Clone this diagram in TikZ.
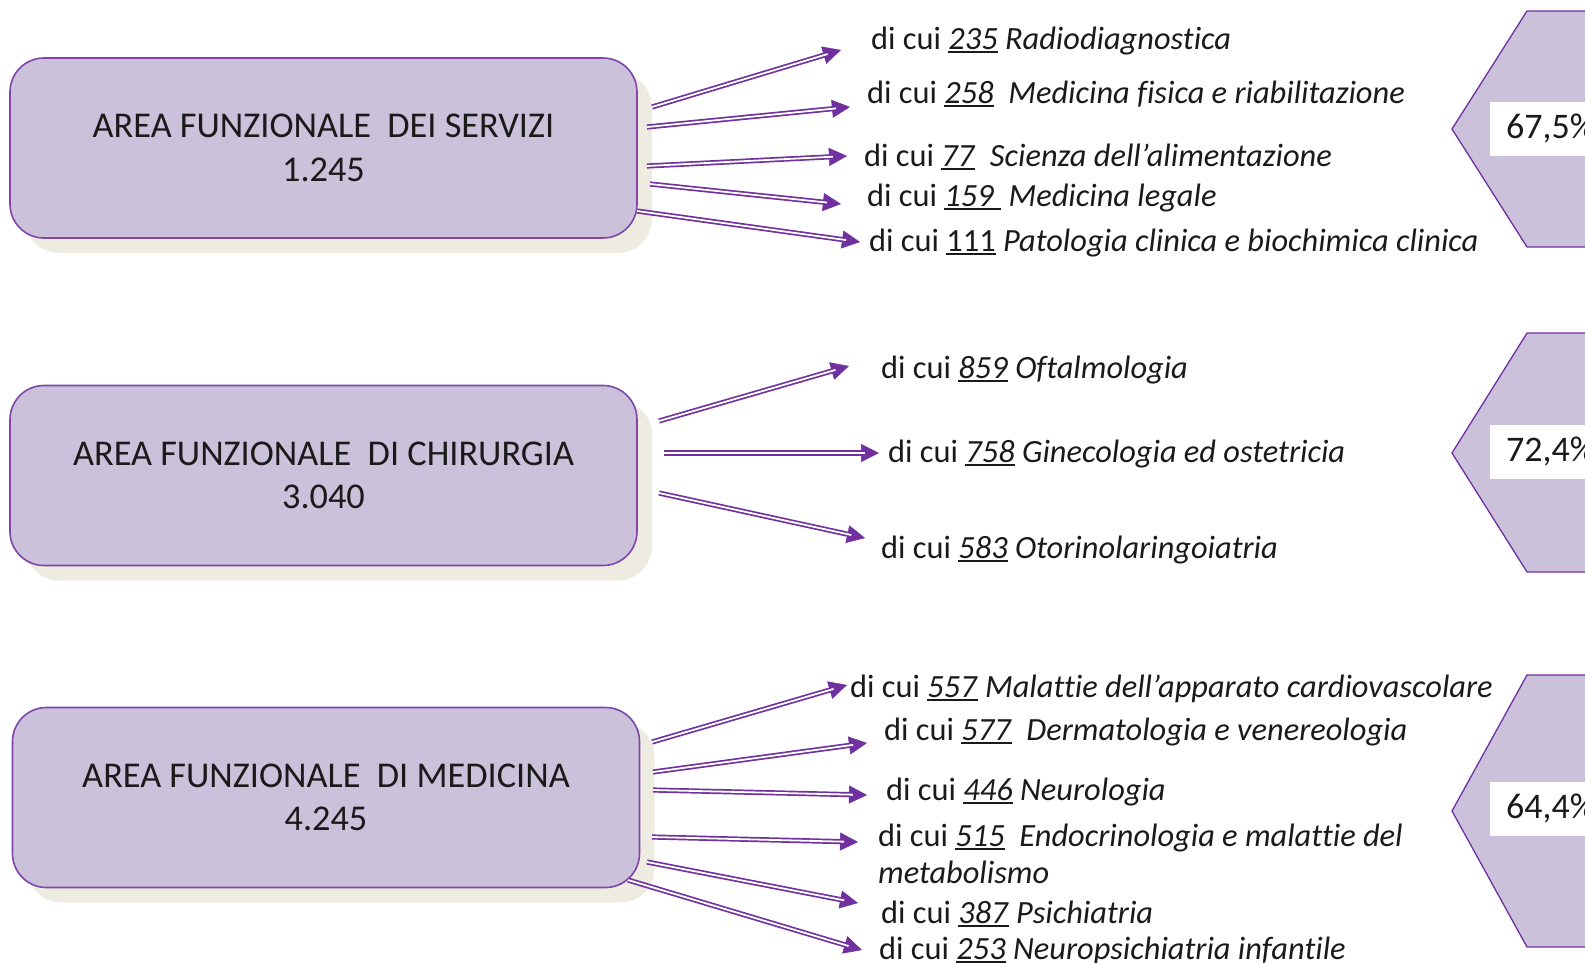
\documentclass[tikz,border=0pt]{standalone}
\usepackage{fontspec}
\setmainfont{Carlito}[Ligatures=NoCommon]
\usetikzlibrary{arrows.meta,shadows}
\definecolor{arrc}{HTML}{7030A0}
\definecolor{boxfill}{HTML}{CCC1DA}
\definecolor{shadowc}{HTML}{EEECE1}
\definecolor{txt}{HTML}{1A1A1A}
\newsavebox\unbox
\newcommand\un[1]{\sbox\unbox{#1}\mbox{\rlap{\rule[-3.6pt]{\wd\unbox}{1.4pt}}\usebox\unbox}}
\newcommand\darr[2]{\draw[tipst] (#1) -- (#2); \draw[shaftst] (#1) -- (#2);}
\begin{document}
\begin{tikzpicture}[x=1pt,y=-1pt,
 area/.style={draw=arrc!90, line width=1.6pt, fill=boxfill, rounded corners=34pt,
   minimum width=627pt, minimum height=180pt, align=center, inner sep=0pt,
   font=\fontsize{36.3}{43.4}\selectfont, text=txt,
   drop shadow={shadow xshift=15pt, shadow yshift=-15pt, fill=shadowc, draw=none, opacity=1}},
 lab/.style={anchor=base west, inner sep=0pt, font=\fontsize{32.4}{37}\selectfont, text=txt, align=left},
 pct/.style={fill=white, anchor=west, minimum height=54pt, text width=110pt, inner xsep=16pt,
   font=\fontsize{36}{40}\selectfont, text=txt},
 hexa/.style={draw=arrc, line width=1.3pt, fill=boxfill},
 tipst/.style={draw=arrc, line width=0.5pt, -{Triangle[length=18pt,width=18pt]}},
 shaftst/.style={draw=arrc, line width=1.7pt, double=white, double distance=1.8pt, shorten >=14pt},
]
\useasboundingbox (0,0) rectangle (1585,962);
\clip (0,0) rectangle (1585,962);

% area boxes
\node[area] (b1) at (323.5,148) {AREA FUNZIONALE\ \ DEI SERVIZI\\1.245};
\node[area] (b2) at (323.5,475.5) {AREA FUNZIONALE\ \ DI CHIRURGIA\\3.040};
\node[area] (b3) at (326,797.5) {AREA FUNZIONALE\ \ DI MEDICINA\\4.245};

% hexagons
\path[hexa] (1452,129) -- (1527,11) -- (1700,11) -- (1775,129) -- (1700,247) -- (1527,247) -- cycle;
\path[hexa] (1452,453) -- (1527,333) -- (1700,333) -- (1775,453) -- (1700,572) -- (1527,572) -- cycle;
\path[hexa] (1452,811) -- (1527,675) -- (1700,675) -- (1775,811) -- (1700,947) -- (1527,947) -- cycle;
\node[pct] (p1) at (1490,128.5) {67,5\%};
\node[pct] (p2) at (1490,452) {72,4\%};
\node[pct] (p3) at (1490,809) {64,4\%};

% labels
\node[lab] (l11) at (871,49) {di cui \un{\textit{235}} \textit{Radiodiagnostica}};
\node[lab] (l12) at (867,103) {di cui \un{\textit{258}}\ \ \textit{Medicina fisica e riabilitazione}};
\node[lab] (l13) at (864,166) {di cui \un{\textit{77}}\ \ \textit{Scienza dell’alimentazione}};
\node[lab] (l14) at (867,206) {di cui \un{\textit{159}\ }\ \textit{Medicina legale}};
\node[lab] (l15) at (869,251) {di cui \un{111} \textit{Patologia clinica e biochimica clinica}};

\node[lab] (l21) at (881,378) {di cui \un{\textit{859}} \textit{Oftalmologia}};
\node[lab] (l22) at (888,462) {di cui \un{\textit{758}} \textit{Ginecologia ed ostetricia}};
\node[lab] (l23) at (881,558) {di cui \un{\textit{583}} \textit{Otorinolaringoiatria}};

\node[lab] (l31) at (850,697) {di cui \un{\textit{557}} \textit{Malattie dell’apparato cardiovascolare}};
\node[lab] (l32) at (884,740) {di cui \un{\textit{577}}\ \ \textit{Dermatologia e venereologia}};
\node[lab] (l33) at (886,800) {di cui \un{\textit{446}} \textit{Neurologia}};
\node[lab] (l34) at (878,883) {di cui \un{\textit{515}}\ \ \textit{Endocrinologia e malattie del}\\\textit{metabolismo}};
\node[lab] (l35) at (881,923) {di cui \un{\textit{387}} \textit{Psichiatria}};
\node[lab] (l36) at (879,959) {di cui \un{\textit{253}} \textit{Neuropsichiatria infantile}};

% arrow coordinates
\coordinate (s11) at (652,107); \coordinate (e11) at (841,50);
\coordinate (s12) at (647,127); \coordinate (e12) at (850,107);
\coordinate (s13) at (647,166); \coordinate (e13) at (847,156);
\coordinate (s14) at (650,184); \coordinate (e14) at (841,204);
\coordinate (s15) at (637,211); \coordinate (e15) at (860,242);

\coordinate (s21) at (659,421); \coordinate (e21) at (849,366);
\coordinate (s22) at (664,453); \coordinate (e22) at (879,453);
\coordinate (s23) at (659,493); \coordinate (e23) at (865,538);

\coordinate (s31) at (652,742); \coordinate (e31) at (847,685);
\coordinate (s32) at (653,772); \coordinate (e32) at (867,743);
\coordinate (s33) at (653,790); \coordinate (e33) at (867,795);
\coordinate (s34) at (652,837); \coordinate (e34) at (858,842);
\coordinate (s35) at (647,862); \coordinate (e35) at (858,903);
\coordinate (s36) at (628,880); \coordinate (e36) at (862,950);

\darr{s11}{e11}\darr{s12}{e12}\darr{s13}{e13}\darr{s14}{e14}\darr{s15}{e15}
\darr{s21}{e21}\darr{s22}{e22}\darr{s23}{e23}
\darr{s31}{e31}\darr{s32}{e32}\darr{s33}{e33}\darr{s34}{e34}\darr{s35}{e35}\darr{s36}{e36}
\end{tikzpicture}
\end{document}
